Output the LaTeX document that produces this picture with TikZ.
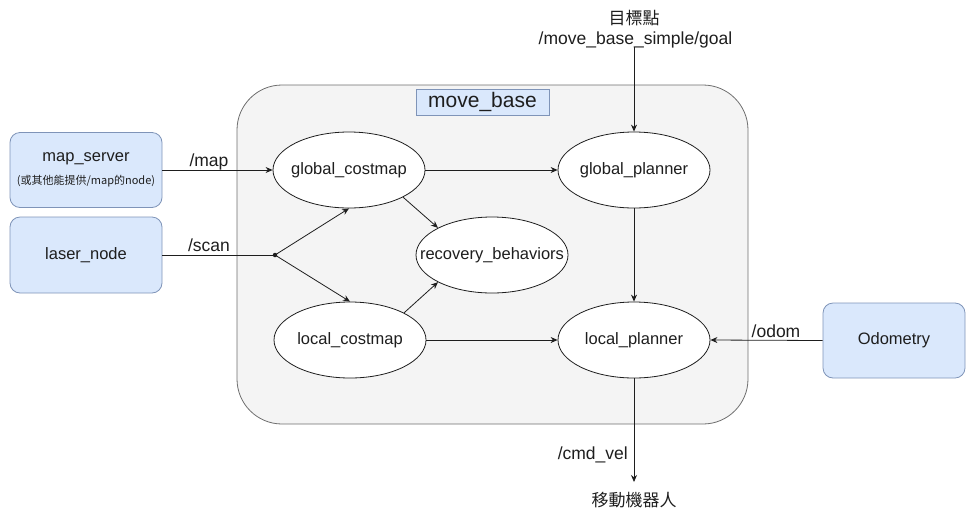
\documentclass[tikz,border=0pt]{standalone}
\usepackage{fontspec}
\setmainfont{Liberation Sans}
\newfontfamily\cjk{Noto Sans CJK TC}
\usetikzlibrary{shapes.geometric,arrows.meta}

\definecolor{boxfill}{HTML}{DAE8FC}
\definecolor{boxline}{HTML}{7F94B8}
\definecolor{panelfill}{HTML}{F4F4F4}
\definecolor{panelline}{HTML}{6E6E6E}
\definecolor{ink}{HTML}{1E1E1E}

\begin{document}
\begin{tikzpicture}[x=1pt,y=-1pt,
  every node/.style={font=\fontsize{16.5}{19}\selectfont, text=ink},
  ell/.style={draw=ink, fill=white, ellipse, inner sep=0pt,
    minimum width=152pt, minimum height=76pt, line width=0.8pt},
  srcbox/.style={draw=boxline, fill=boxfill, rounded corners=10pt,
    line width=0.8pt, align=center, inner sep=0pt},
  lbl/.style={inner sep=0pt, font=\fontsize{17.5}{20}\selectfont},
  wire/.style={draw=ink, line width=0.8pt},
  conn/.style={wire, -{Stealth[length=7pt,width=6pt]}},
]
\useasboundingbox (0,0) rectangle (968,512);

% move_base container
\node[draw=panelline, fill=panelfill, rounded corners=45pt, line width=0.8pt,
  minimum width=511pt, minimum height=339pt, inner sep=0pt] (panel) at (492.5,254.5) {};
\node[draw=boxline, fill=boxfill, line width=0.6pt, minimum width=133pt,
  minimum height=26pt, inner sep=0pt, font=\fontsize{21}{24}\selectfont] (title) at (482.5,102) {move\_base};

% external sources
\node[srcbox, minimum width=152pt, minimum height=75pt] (ms) at (86,170)
  {map\_server\\[4pt]{\cjk\fontsize{11}{12}\selectfont (或其他能提供/map的node)}};
\node[srcbox, minimum width=152pt, minimum height=76pt] (ln) at (86,255) {laser\_node};
\node[srcbox, minimum width=142pt, minimum height=75pt] (odo) at (894,340.5) {Odometry};

% move_base internals
\node[ell] (gc) at (349,170) {\makebox[0pt]{global\_costmap}};
\node[ell] (gp) at (634,170) {\makebox[0pt]{global\_planner}};
\node[ell] (rb) at (492,255) {\makebox[0pt]{recovery\_behaviors}};
\node[ell] (lc) at (350,340) {\makebox[0pt]{local\_costmap}};
\node[ell] (lp) at (634,340) {\makebox[0pt]{local\_planner}};

% scan split point
\node[circle, fill=ink, inner sep=0pt, minimum size=4.5pt] (split) at (275,255) {};

% goal input and robot output
\node[inner sep=0pt, font=\cjk\fontsize{17}{20}\selectfont] (goaltxt) at (634,18) {目標點};
\node[lbl, anchor=base] (goaltopic) at (635.5,44) {/move\_base\_simple/goal};
\coordinate (goalin) at (634,47);
\coordinate (cmdout) at (634,482);
\node[inner sep=0pt, font=\cjk\fontsize{17}{20}\selectfont] (robot) at (634,500) {移動機器人};

% connectors
\draw[conn] (ms.east) -- (gc.west);
\draw[wire] (ln.east) -- (split.center);
\draw[conn] (split.center) -- (gc.south);
\draw[conn] (split.center) -- (lc.north);
\draw[conn] (gc.south east) -- (rb.north west);
\draw[conn] (lc.north east) -- (rb.south west);
\draw[conn] (gc.east) -- (gp.west);
\draw[conn] (lc.east) -- (lp.west);
\draw[conn] (gp.south) -- (lp.north);
\draw[conn] (odo.west) -- (lp.east);
\draw[conn] (goalin) -- (gp.north);
\draw[conn] (lp.south) -- (cmdout);

% topic labels
\node[lbl, anchor=base] (lmap) at (209,166) {/map};
\node[lbl, anchor=base] (lscan) at (209,251) {/scan};
\node[lbl, anchor=base] (lodom) at (776,337) {/odom};
\node[lbl, anchor=base east] (lcmd) at (628,459) {/cmd\_vel};
\end{tikzpicture}
\end{document}
